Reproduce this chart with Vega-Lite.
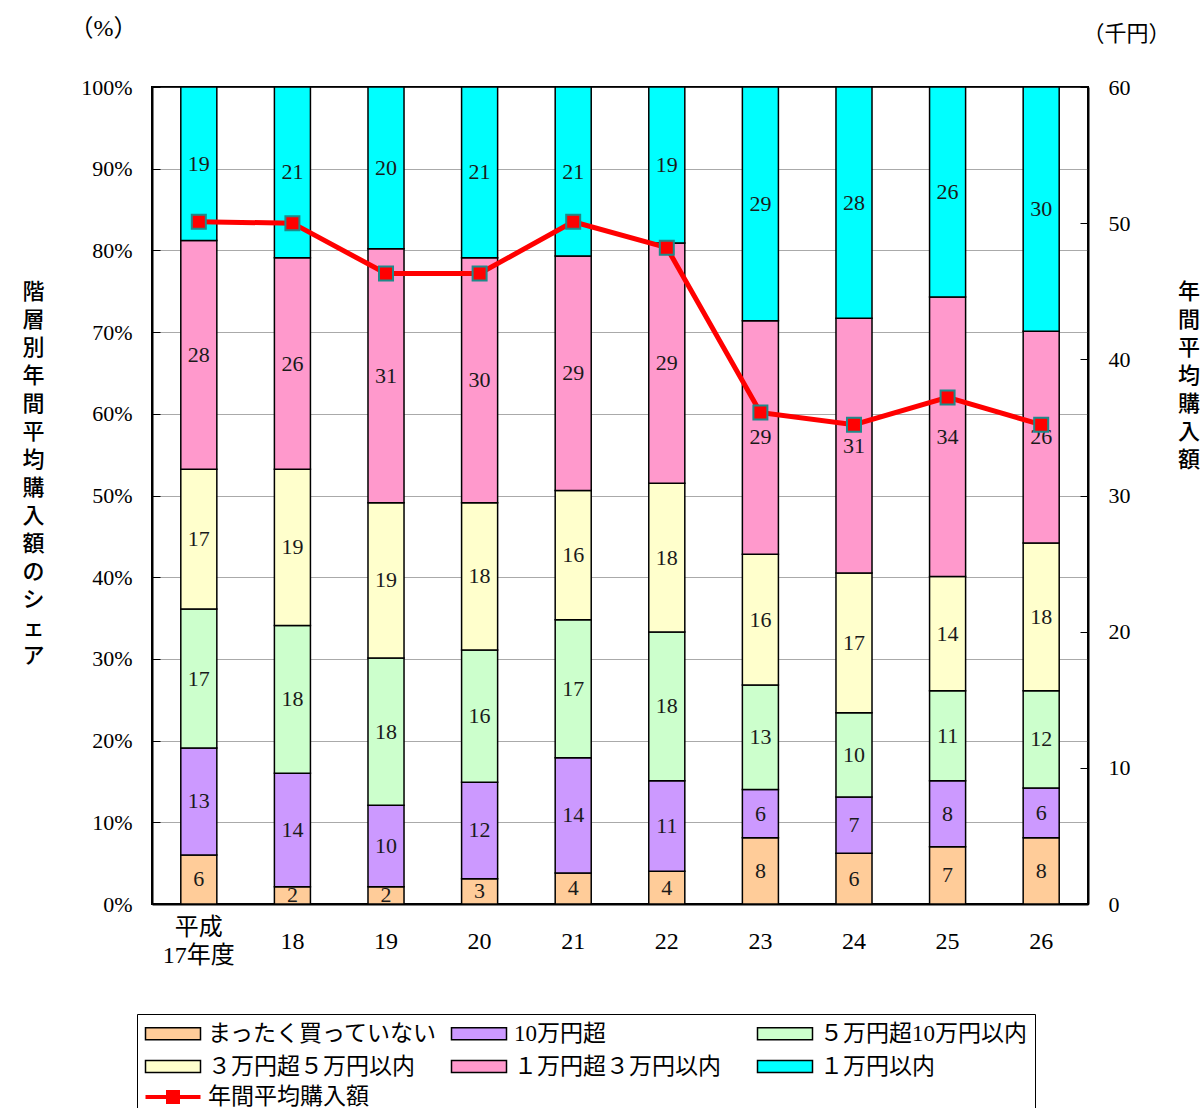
{
  "$schema": "https://vega.github.io/schema/vega-lite/v6.json",
  "width": 936,
  "height": 817,
  "autosize": {"type": "none"},
  "padding": {"left": 152, "top": 87, "right": 116, "bottom": 204},
  "background": "white",
  "config": {
    "view": {"stroke": "black", "strokeWidth": 2},
    "font": "Liberation Serif"
  },
  "title": {
    "text": ["年", "間", "平", "均", "購", "入", "額"],
    "orient": "right",
    "anchor": "middle",
    "angle": 0,
    "align": "center",
    "baseline": "middle",
    "offset": -3,
    "dy": -204,
    "font": "Noto Sans CJK JP",
    "fontSize": 22,
    "fontWeight": 500,
    "lineHeight": 28,
    "color": "black"
  },
  "datasets": {
    "shares": [
      {"year": "平成17年度", "cat": "まったく買っていない", "k": 1, "value": 6.0},
      {"year": "平成17年度", "cat": "10万円超", "k": 2, "value": 13.1},
      {"year": "平成17年度", "cat": "５万円超10万円以内", "k": 3, "value": 17.0},
      {"year": "平成17年度", "cat": "３万円超５万円以内", "k": 4, "value": 17.1},
      {"year": "平成17年度", "cat": "１万円超３万円以内", "k": 5, "value": 28.0},
      {"year": "平成17年度", "cat": "１万円以内", "k": 6, "value": 18.8},
      {"year": "18", "cat": "まったく買っていない", "k": 1, "value": 2.1},
      {"year": "18", "cat": "10万円超", "k": 2, "value": 13.9},
      {"year": "18", "cat": "５万円超10万円以内", "k": 3, "value": 18.1},
      {"year": "18", "cat": "３万円超５万円以内", "k": 4, "value": 19.1},
      {"year": "18", "cat": "１万円超３万円以内", "k": 5, "value": 25.9},
      {"year": "18", "cat": "１万円以内", "k": 6, "value": 20.9},
      {"year": "19", "cat": "まったく買っていない", "k": 1, "value": 2.1},
      {"year": "19", "cat": "10万円超", "k": 2, "value": 10.0},
      {"year": "19", "cat": "５万円超10万円以内", "k": 3, "value": 18.0},
      {"year": "19", "cat": "３万円超５万円以内", "k": 4, "value": 19.0},
      {"year": "19", "cat": "１万円超３万円以内", "k": 5, "value": 31.1},
      {"year": "19", "cat": "１万円以内", "k": 6, "value": 19.8},
      {"year": "20", "cat": "まったく買っていない", "k": 1, "value": 3.1},
      {"year": "20", "cat": "10万円超", "k": 2, "value": 11.8},
      {"year": "20", "cat": "５万円超10万円以内", "k": 3, "value": 16.2},
      {"year": "20", "cat": "３万円超５万円以内", "k": 4, "value": 18.0},
      {"year": "20", "cat": "１万円超３万円以内", "k": 5, "value": 30.0},
      {"year": "20", "cat": "１万円以内", "k": 6, "value": 20.9},
      {"year": "21", "cat": "まったく買っていない", "k": 1, "value": 3.8},
      {"year": "21", "cat": "10万円超", "k": 2, "value": 14.1},
      {"year": "21", "cat": "５万円超10万円以内", "k": 3, "value": 16.9},
      {"year": "21", "cat": "３万円超５万円以内", "k": 4, "value": 15.8},
      {"year": "21", "cat": "１万円超３万円以内", "k": 5, "value": 28.7},
      {"year": "21", "cat": "１万円以内", "k": 6, "value": 20.7},
      {"year": "22", "cat": "まったく買っていない", "k": 1, "value": 4.0},
      {"year": "22", "cat": "10万円超", "k": 2, "value": 11.1},
      {"year": "22", "cat": "５万円超10万円以内", "k": 3, "value": 18.2},
      {"year": "22", "cat": "３万円超５万円以内", "k": 4, "value": 18.2},
      {"year": "22", "cat": "１万円超３万円以内", "k": 5, "value": 29.4},
      {"year": "22", "cat": "１万円以内", "k": 6, "value": 19.1},
      {"year": "23", "cat": "まったく買っていない", "k": 1, "value": 8.1},
      {"year": "23", "cat": "10万円超", "k": 2, "value": 5.9},
      {"year": "23", "cat": "５万円超10万円以内", "k": 3, "value": 12.8},
      {"year": "23", "cat": "３万円超５万円以内", "k": 4, "value": 16.0},
      {"year": "23", "cat": "１万円超３万円以内", "k": 5, "value": 28.6},
      {"year": "23", "cat": "１万円以内", "k": 6, "value": 28.6},
      {"year": "24", "cat": "まったく買っていない", "k": 1, "value": 6.2},
      {"year": "24", "cat": "10万円超", "k": 2, "value": 6.9},
      {"year": "24", "cat": "５万円超10万円以内", "k": 3, "value": 10.3},
      {"year": "24", "cat": "３万円超５万円以内", "k": 4, "value": 17.1},
      {"year": "24", "cat": "１万円超３万円以内", "k": 5, "value": 31.2},
      {"year": "24", "cat": "１万円以内", "k": 6, "value": 28.3},
      {"year": "25", "cat": "まったく買っていない", "k": 1, "value": 7.0},
      {"year": "25", "cat": "10万円超", "k": 2, "value": 8.1},
      {"year": "25", "cat": "５万円超10万円以内", "k": 3, "value": 11.0},
      {"year": "25", "cat": "３万円超５万円以内", "k": 4, "value": 14.0},
      {"year": "25", "cat": "１万円超３万円以内", "k": 5, "value": 34.2},
      {"year": "25", "cat": "１万円以内", "k": 6, "value": 25.7},
      {"year": "26", "cat": "まったく買っていない", "k": 1, "value": 8.1},
      {"year": "26", "cat": "10万円超", "k": 2, "value": 6.1},
      {"year": "26", "cat": "５万円超10万円以内", "k": 3, "value": 11.9},
      {"year": "26", "cat": "３万円超５万円以内", "k": 4, "value": 18.1},
      {"year": "26", "cat": "１万円超３万円以内", "k": 5, "value": 25.9},
      {"year": "26", "cat": "１万円以内", "k": 6, "value": 29.9}
    ],
    "amount": [
      {"year": "平成17年度", "series": "年間平均購入額", "amount": 50.1},
      {"year": "18", "series": "年間平均購入額", "amount": 50.0},
      {"year": "19", "series": "年間平均購入額", "amount": 46.3},
      {"year": "20", "series": "年間平均購入額", "amount": 46.3},
      {"year": "21", "series": "年間平均購入額", "amount": 50.1},
      {"year": "22", "series": "年間平均購入額", "amount": 48.2},
      {"year": "23", "series": "年間平均購入額", "amount": 36.1},
      {"year": "24", "series": "年間平均購入額", "amount": 35.2},
      {"year": "25", "series": "年間平均購入額", "amount": 37.2},
      {"year": "26", "series": "年間平均購入額", "amount": 35.2}
    ]
  },
  "encoding": {
    "x": {
      "field": "year", "type": "nominal",
      "scale": {"type": "band", "domain": ["平成17年度", "18", "19", "20", "21", "22", "23", "24", "25", "26"], "paddingInner": 0.615, "paddingOuter": 0.3077},
      "axis": {
        "orient": "bottom",
        "labelExpr": "datum.value === '平成17年度' ? ['平成', '17年度'] : datum.value",
        "labelAngle": 0,
        "labelFont": "Liberation Serif, Noto Sans CJK JP",
        "labelFontSize": 24,
        "labelLineHeight": 28,
        "labelBaseline": "middle",
        "labelPadding": {"condition": {"test": "datum.value === '平成17年度'", "value": 23}, "value": 37},
        "labelColor": "black",
        "ticks": false,
        "domainColor": "black",
        "domainWidth": 2,
        "title": ["階", "層", "別", "年", "間", "平", "均", "購", "入", "額", "の", "シ", "ェ", "ア"],
        "titleX": -119,
        "titleY": -613,
        "titleAngle": 0,
        "titleAlign": "center",
        "titleBaseline": "middle",
        "titleFont": "Noto Sans CJK JP",
        "titleFontSize": 22,
        "titleFontWeight": 500,
        "titleLineHeight": 28,
        "titleColor": "black"
      }
    }
  },
  "layer": [
    {
      "data": {"name": "shares"},
      "encoding": {
        "y": {
          "field": "value", "type": "quantitative", "stack": "zero",
          "scale": {"domain": [0, 100], "nice": false},
          "axis": {
            "orient": "left",
            "values": [0, 10, 20, 30, 40, 50, 60, 70, 80, 90, 100],
            "labelExpr": "datum.value + '%'",
            "labelFont": "Liberation Serif",
            "labelFontSize": 22,
            "labelColor": "black",
            "labelPadding": 28,
            "tickSize": -8,
            "tickColor": "black",
            "tickWidth": 1,
            "domainColor": "black",
            "domainWidth": 2,
            "grid": true,
            "gridColor": "#555555",
            "gridDash": [1, 1],
            "gridWidth": 1,
            "title": "（%）",
            "titleX": -49,
            "titleY": -59,
            "titleAngle": 0,
            "titleAlign": "center",
            "titleBaseline": "middle",
            "titleFont": "Liberation Serif, Noto Sans CJK JP",
            "titleFontSize": 24,
            "titleFontWeight": "normal",
            "titleColor": "black"
          }
        }
      },
      "layer": [
        {
          "mark": {"type": "bar", "stroke": "black", "strokeWidth": 1.5},
          "encoding": {
            "fill": {
              "field": "cat", "type": "nominal",
              "scale": {
                "domain": ["まったく買っていない", "10万円超", "５万円超10万円以内", "３万円超５万円以内", "１万円超３万円以内", "１万円以内"],
                "range": ["#FFCC99", "#CC99FF", "#CCFFCC", "#FFFFCC", "#FF99CC", "#00FFFF"]
              },
              "legend": {
                "orient": "none",
                "direction": "horizontal",
                "legendX": -15,
                "legendY": 927,
                "title": " ",
                "titleOrient": "bottom",
                "titleFontSize": 22,
                "titlePadding": 10,
                "columns": 3,
                "gridAlign": "all",
                "columnPadding": 10,
                "rowPadding": 9,
                "symbolType": "M-5,-1.09H5V1.09H-5Z",
                "symbolSize": 121,
                "symbolStrokeWidth": 1.5,
                "symbolStrokeColor": "black",
                "symbolOffset": 16.5,
                "labelOffset": 23.5,
                "labelFont": "Liberation Serif, Noto Sans CJK JP",
                "labelFontSize": 23,
                "labelColor": "black",
                "labelLimit": 400,
                "labelBaseline": "middle",
                "strokeColor": "black",
                "fillColor": "white",
                "padding": 8,
                "zindex": 1
              }
            },
            "order": {"field": "k", "type": "quantitative"}
          }
        },
        {
          "transform": [
            {"stack": "value", "groupby": ["year"], "sort": [{"field": "k", "order": "ascending"}], "as": ["v0", "v1"]},
            {"fold": ["v0", "v1"], "as": ["edge", "pos"]}
          ],
          "mark": {"type": "text", "baseline": "middle", "align": "center", "font": "Liberation Serif", "fontSize": 22, "color": "#1a1a1a"},
          "encoding": {
            "y": {
              "aggregate": "mean", "field": "pos", "type": "quantitative", "stack": null,
              "scale": {"domain": [0, 100], "nice": false}
            },
            "text": {"aggregate": "max", "field": "value", "type": "quantitative", "format": ".0f"},
            "detail": {"field": "cat", "type": "nominal"}
          }
        }
      ]
    },
    {
      "data": {"name": "amount"},
      "encoding": {
        "y": {
          "field": "amount", "type": "quantitative",
          "scale": {"domain": [0, 60], "nice": false},
          "axis": {
            "orient": "right",
            "values": [0, 10, 20, 30, 40, 50, 60],
            "labelFont": "Liberation Serif",
            "labelFontSize": 22,
            "labelColor": "black",
            "labelPadding": 28,
            "tickSize": -8,
            "tickColor": "black",
            "tickWidth": 1,
            "domainColor": "black",
            "domainWidth": 2,
            "grid": false,
            "title": "（千円）",
            "titleX": 38,
            "titleY": -54,
            "titleAngle": 0,
            "titleAlign": "center",
            "titleBaseline": "middle",
            "titleFont": "Liberation Serif, Noto Sans CJK JP",
            "titleFontSize": 22,
            "titleFontWeight": "normal",
            "titleColor": "black"
          }
        }
      },
      "layer": [
        {
          "mark": {"type": "line", "strokeWidth": 5},
          "encoding": {
            "stroke": {
              "datum": "年間平均購入額", "type": "nominal",
              "scale": {"domain": ["年間平均購入額"], "range": ["#FF0000"]},
              "legend": {
                "orient": "none",
                "legendX": -15,
                "legendY": 990.5,
                "title": null,
                "symbolType": "M-5,0H5",
                "symbolSize": 121,
                "symbolStrokeWidth": 4,
                "symbolOffset": 16.5,
                "labelOffset": 23.5,
                "labelFont": "Liberation Serif, Noto Sans CJK JP",
                "labelFontSize": 23,
                "labelColor": "black",
                "labelLimit": 400,
                "labelBaseline": "middle",
                "padding": 8,
                "zindex": 2
              }
            }
          }
        },
        {
          "mark": {"type": "point", "size": 196, "filled": true, "fill": "#FF0000", "stroke": "#1E8A8A", "strokeWidth": 2, "opacity": 1},
          "encoding": {
            "shape": {
              "field": "series", "type": "nominal",
              "scale": {"range": ["square"]},
              "legend": {
                "orient": "none",
                "legendX": -15,
                "legendY": 990.5,
                "title": null,
                "symbolSize": 196,
                "symbolStrokeWidth": 2,
                "symbolFillColor": "#FF0000",
                "symbolStrokeColor": "#1E8A8A",
                "symbolOffset": 16.5,
                "labelExpr": "''",
                "labelFontSize": 23,
                "padding": 8,
                "zindex": 3
              }
            }
          }
        }
      ]
    }
  ],
  "resolve": {"scale": {"y": "independent"}}
}
